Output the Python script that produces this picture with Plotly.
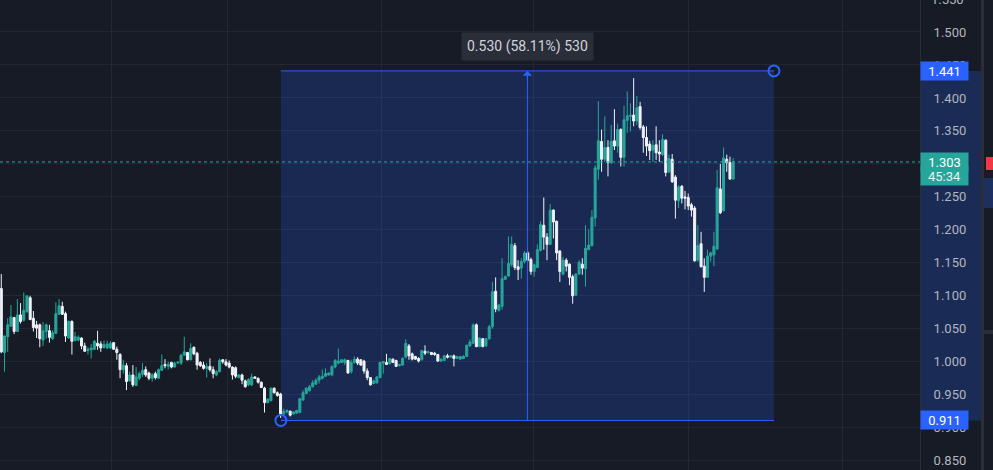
import plotly.graph_objects as go

# ---------------- data ----------------
opens = [1.111,1.014,1.038,1.054,1.067,1.046,1.071,1.063,1.076,1.097,
         1.066,1.056,1.056,1.033,1.046,1.047,1.035,1.043,1.072,1.084,
         1.073,1.036,1.061,1.032,1.033,1.036,1.024,1.017,1.018,1.019,
         1.028,1.027,1.022,1.021,1.021,1.029,1.019,1.011,0.988,0.994,
         0.971,0.980,0.964,0.975,0.981,0.988,0.983,0.975,0.982,0.975,
         0.987,0.996,0.993,0.999,0.992,0.998,0.998,1.010,1.014,1.003,
         1.022,1.013,0.999,0.995,0.990,0.993,0.988,0.980,0.985,1.003,
         1.000,0.998,0.992,0.991,0.976,0.980,0.971,0.965,0.965,0.977,
         0.975,0.969,0.960,0.938,0.941,0.960,0.953,0.951,0.921,0.924,
         0.925,0.921,0.922,0.923,0.942,0.952,0.956,0.962,0.966,0.972,
         0.975,0.978,0.980,0.980,0.992,0.998,0.999,0.999,1.002,0.985,
         0.999,1.004,1.003,1.001,0.986,0.976,0.967,0.968,0.976,0.998,
         0.999,0.997,1.004,1.002,0.994,0.995,1.007,1.024,1.012,1.008,
         1.005,1.003,1.016,1.014,1.014,1.013,1.011,1.001,1.002,1.009,
         1.007,1.009,1.005,1.004,1.005,1.008,1.024,1.028,1.056,1.023,
         1.035,1.024,1.035,1.053,1.107,1.078,1.084,1.125,1.130,1.147,
         1.176,1.144,1.142,1.152,1.165,1.155,1.137,1.143,1.169,1.207,
         1.189,1.178,1.230,1.213,1.168,1.133,1.154,1.148,1.129,1.101,
         1.133,1.148,1.141,1.170,1.176,1.218,1.292,1.334,1.307,1.325,
         1.302,1.335,1.327,1.352,1.310,1.366,1.372,1.374,1.365,1.387,
         1.356,1.340,1.330,1.321,1.329,1.318,1.314,1.336,1.288,1.307,
         1.280,1.244,1.266,1.250,1.249,1.238,1.233,1.154,1.179,1.145,
         1.128,1.160,1.162,1.171,1.262,1.229,1.307,1.302,1.277]
highs = [1.133,1.040,1.066,1.086,1.068,1.095,1.089,1.105,1.100,1.100,
         1.077,1.062,1.058,1.060,1.058,1.056,1.048,1.090,1.095,1.091,
         1.076,1.063,1.063,1.045,1.040,1.037,1.029,1.022,1.027,1.033,
         1.047,1.031,1.032,1.032,1.031,1.030,1.023,1.013,1.003,0.998,
         0.985,0.995,0.992,0.985,0.998,0.993,0.985,0.983,0.985,0.990,
         1.011,1.004,1.000,1.000,1.000,1.001,1.012,1.038,1.015,1.028,
         1.023,1.015,1.001,1.000,0.998,1.005,0.993,0.987,1.005,1.004,
         1.004,1.002,0.993,0.993,0.981,0.982,0.973,0.975,0.982,0.978,
         0.976,0.970,0.962,0.945,0.961,0.961,0.955,0.953,0.929,0.928,
         0.926,0.925,0.927,0.945,0.957,0.961,0.965,0.972,0.975,0.980,
         0.988,0.990,0.984,0.994,1.004,1.020,1.004,1.005,1.003,1.003,
         1.008,1.007,1.004,1.003,0.990,0.977,0.973,0.978,1.000,1.001,
         1.012,1.006,1.005,1.003,0.997,1.007,1.034,1.027,1.014,1.009,
         1.007,1.018,1.025,1.017,1.015,1.015,1.012,1.005,1.010,1.012,
         1.010,1.011,1.009,1.009,1.010,1.026,1.034,1.058,1.058,1.037,
         1.036,1.036,1.056,1.121,1.128,1.088,1.157,1.131,1.190,1.190,
         1.180,1.154,1.157,1.168,1.168,1.158,1.149,1.178,1.213,1.249,
         1.195,1.239,1.231,1.214,1.169,1.159,1.157,1.149,1.132,1.134,
         1.154,1.157,1.207,1.201,1.230,1.298,1.395,1.352,1.372,1.336,
         1.359,1.383,1.361,1.354,1.388,1.410,1.392,1.430,1.403,1.394,
         1.359,1.357,1.335,1.336,1.357,1.336,1.345,1.337,1.314,1.315,
         1.283,1.268,1.268,1.259,1.255,1.241,1.236,1.207,1.197,1.157,
         1.170,1.167,1.197,1.291,1.300,1.325,1.314,1.311,1.309]
lows = [1.013,0.985,1.015,1.053,1.042,1.046,1.058,1.061,1.074,1.063,
        1.046,1.036,1.022,1.024,1.035,1.029,1.033,1.042,1.071,1.071,
        1.030,1.035,1.011,1.032,1.031,1.019,1.015,1.011,1.005,1.018,
        1.018,1.015,1.020,1.019,1.019,1.018,1.003,0.975,0.982,0.957,
        0.970,0.962,0.963,0.972,0.977,0.977,0.972,0.970,0.973,0.974,
        0.986,0.990,0.988,0.990,0.991,0.997,0.995,1.009,1.002,1.002,
        1.010,0.988,0.992,0.988,0.976,0.985,0.975,0.978,0.984,0.997,
        0.993,0.990,0.973,0.975,0.975,0.966,0.961,0.963,0.963,0.974,
        0.967,0.960,0.923,0.937,0.940,0.952,0.947,0.915,0.919,0.922,
        0.917,0.920,0.921,0.922,0.941,0.951,0.955,0.961,0.965,0.967,
        0.973,0.977,0.979,0.978,0.990,0.996,0.998,0.995,0.982,0.982,
        0.997,0.995,0.994,0.982,0.972,0.964,0.966,0.967,0.975,0.982,
        0.995,0.996,0.998,0.992,0.993,0.994,1.005,1.003,1.002,1.003,
        0.999,1.002,1.010,1.012,1.010,1.009,1.000,1.000,1.001,1.005,
        1.006,0.993,1.004,1.003,1.004,1.007,1.023,1.027,1.022,1.022,
        1.022,1.023,1.033,1.050,1.075,1.076,1.079,1.124,1.129,1.144,
        1.139,1.124,1.126,1.149,1.152,1.132,1.129,1.142,1.167,1.170,
        1.154,1.177,1.187,1.154,1.121,1.131,1.137,1.116,1.088,1.100,
        1.132,1.132,1.114,1.169,1.175,1.205,1.276,1.288,1.303,1.281,
        1.300,1.321,1.317,1.296,1.296,1.347,1.349,1.357,1.359,1.352,
        1.317,1.312,1.306,1.303,1.306,1.303,1.312,1.281,1.286,1.271,
        1.217,1.233,1.240,1.231,1.230,1.220,1.152,1.152,1.143,1.106,
        1.127,1.152,1.145,1.170,1.224,1.228,1.288,1.276,1.276]
closes = [1.015,1.039,1.056,1.068,1.046,1.071,1.061,1.078,1.100,1.064,
          1.052,1.051,1.035,1.047,1.056,1.037,1.044,1.073,1.085,1.072,
          1.039,1.061,1.031,1.038,1.037,1.024,1.016,1.019,1.021,1.031,
          1.024,1.021,1.026,1.027,1.028,1.019,1.014,0.988,0.995,0.970,
          0.980,0.965,0.977,0.982,0.987,0.980,0.975,0.980,0.976,0.988,
          0.994,0.994,0.996,0.992,0.998,0.999,1.010,1.015,1.003,1.020,
          1.012,0.995,0.994,0.990,0.993,0.988,0.982,0.985,1.002,1.000,
          0.995,0.992,0.980,0.978,0.980,0.972,0.962,0.973,0.977,0.975,
          0.969,0.961,0.938,0.943,0.960,0.953,0.949,0.921,0.925,0.926,
          0.919,0.924,0.926,0.944,0.953,0.960,0.962,0.968,0.972,0.977,
          0.978,0.982,0.983,0.993,1.002,1.001,1.003,1.003,0.983,0.999,
          1.004,0.998,0.995,0.986,0.976,0.965,0.971,0.977,0.999,1.000,
          0.996,1.005,0.999,0.993,0.996,1.005,1.028,1.009,1.004,1.004,
          1.001,1.017,1.013,1.015,1.011,1.011,1.001,1.004,1.009,1.007,
          1.009,1.005,1.008,1.008,1.008,1.025,1.030,1.056,1.023,1.036,
          1.023,1.035,1.053,1.106,1.080,1.086,1.126,1.129,1.149,1.178,
          1.143,1.140,1.152,1.165,1.154,1.137,1.147,1.170,1.208,1.189,
          1.178,1.230,1.212,1.165,1.137,1.154,1.145,1.128,1.100,1.133,
          1.151,1.142,1.172,1.177,1.219,1.294,1.335,1.307,1.325,1.302,
          1.334,1.327,1.352,1.310,1.367,1.373,1.374,1.365,1.385,1.355,
          1.340,1.327,1.320,1.328,1.317,1.315,1.337,1.287,1.308,1.273,
          1.245,1.265,1.248,1.248,1.236,1.230,1.153,1.176,1.144,1.128,
          1.160,1.165,1.175,1.264,1.226,1.309,1.302,1.277,1.303]
bars = list(range(len(closes)))

y_ticks = [0.85, 0.90, 0.95, 1.00, 1.05, 1.10, 1.15, 1.20, 1.25, 1.30,
           1.35, 1.40, 1.45, 1.50]
time_grid = [34.2, 70.6, 118.3, 165.9, 214.0, 262.2]   # bar positions of the vertical grid lines

# price-range measurement
range_start_bar, range_end_bar = 87.1, 240.7
range_low, range_high = 0.911, 1.441
range_text = "0.530 (58.11%) 530"
last_price, countdown = 1.303, "45:34"

BG = "#171b26"
GRID = "#232733"
BLUE = "#2962ff"
TEAL = "#26a69a"
WHITE = "#f0f3fa"
FILL = "rgba(41,98,255,0.2)"
W, H, PLOT_W = 993, 470, 920

def px(p):          # paper x for a pixel position (decoration in the margin)
    return p / PLOT_W

fig = go.Figure()
fig.add_trace(go.Candlestick(
    x=bars, open=opens, high=highs, low=lows, close=closes,
    increasing=dict(line=dict(color=TEAL, width=1), fillcolor=TEAL),
    decreasing=dict(line=dict(color=WHITE, width=1), fillcolor=WHITE),
    whiskerwidth=0, hoverinfo="skip", showlegend=False))

mid_bar = (range_start_bar + range_end_bar) / 2

# anchor circles
fig.add_trace(go.Scatter(
    x=[range_start_bar, range_end_bar], y=[range_low, range_high], mode="markers",
    marker=dict(symbol="circle-open", size=11, color=BLUE, line=dict(width=2, color=BLUE)),
    hoverinfo="skip", showlegend=False, cliponaxis=False))

shapes = [
    dict(type="rect", xref="x", yref="y", x0=range_start_bar, x1=range_end_bar,
         y0=range_low, y1=range_high, fillcolor=FILL, line=dict(width=0), layer="between"),
    dict(type="line", xref="x", yref="y", x0=range_start_bar, x1=range_end_bar,
         y0=range_high, y1=range_high, line=dict(color=BLUE, width=1)),
    dict(type="line", xref="x", yref="y", x0=range_start_bar, x1=range_end_bar,
         y0=range_low, y1=range_low, line=dict(color=BLUE, width=1)),
    # vertical measurement line
    dict(type="line", xref="x", yref="y", x0=mid_bar, x1=mid_bar,
         y0=range_low, y1=range_high, line=dict(color=BLUE, width=1)),
    # last price dotted line
    dict(type="line", xref="paper", yref="y", x0=0, x1=1, y0=last_price, y1=last_price,
         line=dict(color=TEAL, width=1, dash="dot")),
    # axis highlight band
    dict(type="rect", xref="paper", yref="y", x0=1, x1=px(981), y0=range_low, y1=range_high,
         fillcolor="rgba(41,98,255,0.22)", line=dict(width=0), layer="below"),
    # right side strip of the neighbouring panel
    dict(type="rect", xref="paper", yref="paper", x0=px(981), x1=px(984), y0=0, y1=1,
         fillcolor="#2a2e39", line=dict(width=0)),
    dict(type="rect", xref="paper", yref="paper", x0=px(986), x1=px(994),
         y0=1 - 170 / H, y1=1 - 157 / H, fillcolor="#f23645", line=dict(width=0)),
    dict(type="rect", xref="paper", yref="paper", x0=px(984), x1=px(994),
         y0=1 - 208 / H, y1=1 - 178 / H, fillcolor="#1c2f5e", line=dict(width=0)),
    dict(type="rect", xref="paper", yref="paper", x0=px(984), x1=px(994),
         y0=1 - 334 / H, y1=1 - 330 / H, fillcolor="#2a2e39", line=dict(width=0)),
]

annotations = [
    # arrow head at the top of the measurement line
    dict(x=mid_bar, y=range_high, ax=0, ay=12, xref="x", yref="y",
         text="", showarrow=True, arrowhead=1, arrowsize=1.6,
         arrowwidth=1, arrowcolor=BLUE, standoff=0),
    # measurement label
    dict(x=mid_bar, y=range_high, xref="x", yref="y", yanchor="bottom", yshift=10,
         text=range_text, showarrow=False, bgcolor="#2a2e39", borderpad=5,
         font=dict(family="Roboto", size=14, color="#d1d4dc")),
    # axis labels
    dict(x=1, y=range_high, xref="paper", yref="y", xanchor="left", yanchor="middle",
         text=f"{range_high:.3f}", showarrow=False, bgcolor=BLUE, width=45, height=16,
         borderpad=1, align="center", font=dict(family="Roboto", size=13, color="#ffffff")),
    dict(x=1, y=range_low, xref="paper", yref="y", xanchor="left", yanchor="middle",
         text=f"{range_low:.3f}", showarrow=False, bgcolor=BLUE, width=45, height=16,
         borderpad=1, align="center", font=dict(family="Roboto", size=13, color="#ffffff")),
    dict(x=1, y=last_price, xref="paper", yref="y", xanchor="left", yanchor="middle",
         yshift=-14, text=countdown, showarrow=False, bgcolor=TEAL, width=45, height=16,
         borderpad=1, align="center", font=dict(family="Roboto", size=13, color="#e6f3f1")),
    dict(x=1, y=last_price, xref="paper", yref="y", xanchor="left", yanchor="middle",
         text=f"{last_price:.3f}", showarrow=False, bgcolor=TEAL, width=45, height=16,
         borderpad=1, align="center", font=dict(family="Roboto", size=13, color="#ffffff")),
    # partially visible top tick label (just above the visible range)
    dict(x=1, y=1.0, xref="paper", yref="paper", xanchor="left", yanchor="middle",
         xshift=9, yshift=1, text="1.550", showarrow=False,
         font=dict(family="Roboto", size=13, color="#b2b5be")),
]

fig.update_layout(
    width=W, height=H, autosize=False,
    margin=dict(l=0, r=W - PLOT_W, t=0, b=0, pad=0),
    paper_bgcolor=BG, plot_bgcolor=BG,
    shapes=shapes, annotations=annotations,
    boxgap=0.1,
    xaxis=dict(range=[-0.4, 286.2], rangeslider=dict(visible=False), showticklabels=False,
               tickvals=time_grid, ticks="", showgrid=True, gridcolor=GRID, gridwidth=1,
               zeroline=False, showline=False, fixedrange=True),
    yaxis=dict(range=[0.8359, 1.5485], side="right", tickvals=y_ticks, tickformat=".3f",
               showgrid=True, gridcolor=GRID, gridwidth=1, zeroline=False, ticks="",
               ticklabelstandoff=10, showline=True, linecolor="#2a2e39", linewidth=1,
               tickfont=dict(family="Roboto", size=13, color="#b2b5be"), automargin=False),
    hovermode=False,
)

fig.write_html(
    "out.html",
    config={"displayModeBar": False},
    post_script="document.body.style.margin='0';document.body.style.overflow='hidden';"
                "document.body.style.background='" + BG + "';",
)
